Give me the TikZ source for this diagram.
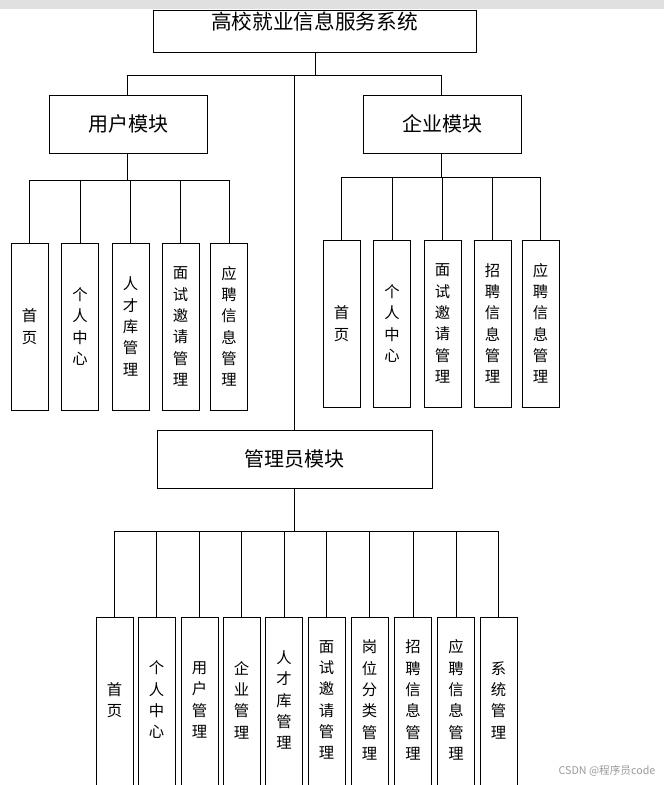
\documentclass[tikz,border=0pt]{standalone}
\usepackage{fontspec}
\setmainfont{Noto Sans CJK SC}
\begin{document}
\begin{tikzpicture}[x=0.75pt,y=-0.75pt,
  bx/.style={draw,line width=0.75pt,fill=white,inner sep=0pt},
  vt/.style={font=\fontsize{11.5}{16}\selectfont,align=center,inner sep=0pt},
  ln/.style={line width=0.75pt}]
\useasboundingbox (0,0) rectangle (664,785);
\fill[black!12] (0,0) rectangle (664,9);
% top
\draw[bx] (153,10) rectangle (476,52);
\node[font=\fontsize{15.5}{16}\selectfont] (top) at (314.5,22) {高校就业信息服务系统};
\coordinate (tb) at (315,52);
\coordinate (tj) at (315,75);
\coordinate (jl) at (127,75);
\coordinate (jr) at (441,75);
\coordinate (jm) at (294,75);
\draw[ln] (tb) -- (tj) (jl) -- (jr);
% modules
\node[bx,minimum width=158*0.75pt,minimum height=58*0.75pt,font=\fontsize{15}{16}\selectfont] (um) at (128,124) {用户模块};
\node[bx,minimum width=158*0.75pt,minimum height=58*0.75pt,font=\fontsize{15}{16}\selectfont] (em) at (442,124) {企业模块};
\node[bx,minimum width=275*0.75pt,minimum height=58*0.75pt,font=\fontsize{15}{16}\selectfont] (am) at (294.5,459) {管理员模块};
\draw[ln] (jl) -- (um.north -| jl);
\draw[ln] (jr) -- (em.north -| jr);
\draw[ln] (jm) -- (am.north -| jm);
% user children
\coordinate (ub) at (127,180);
\draw[ln] (um.south -| ub) -- (ub) (29,180) -- (229,180);
\foreach \n/\x/\t in {u1/29.5/首\\页, u2/80/个\\人\\中\\心, u3/130.5/人\\才\\库\\管\\理, u4/180.5/面\\试\\邀\\请\\管\\理, u5/229/应\\聘\\信\\息\\管\\理}{
  \draw[bx] (\x-18.5,243) rectangle (\x+18.5,410);
  \node[vt] (\n) at (\x,326.5) {\t};
  \draw[ln] (\x,180) -- (\x,243);
}
% enterprise children
\coordinate (eb) at (441,177);
\draw[ln] (em.south -| eb) -- (eb) (342,177) -- (541,177);
\foreach \n/\x/\t in {e1/341.5/首\\页, e2/392/个\\人\\中\\心, e3/442.5/面\\试\\邀\\请\\管\\理, e4/492.5/招\\聘\\信\\息\\管\\理, e5/540.5/应\\聘\\信\\息\\管\\理}{
  \draw[bx] (\x-18.5,240) rectangle (\x+18.5,407);
  \node[vt] (\n) at (\x,323.5) {\t};
  \draw[ln] (\x,177) -- (\x,240);
}
% admin children
\coordinate (ab) at (294,531);
\draw[ln] (am.south -| ab) -- (ab) (114.5,531) -- (498.5,531);
\foreach \n/\x/\t in {a1/114.5/首\\页, a2/156.5/个\\人\\中\\心, a3/199.5/用\\户\\管\\理, a4/241.5/企\\业\\管\\理, a5/284/人\\才\\库\\管\\理, a6/326.5/面\\试\\邀\\请\\管\\理, a7/369.5/岗\\位\\分\\类\\管\\理, a8/413/招\\聘\\信\\息\\管\\理, a9/456/应\\聘\\信\\息\\管\\理, a10/498.5/系\\统\\管\\理}{
  \draw[bx] (\x-18.5,617) rectangle (\x+18.5,790);
  \node[vt] (\n) at (\x,700) {\t};
  \draw[ln] (\x,531) -- (\x,617);
}
\node[font=\fontsize{8}{10}\selectfont,text=black!40,anchor=east] (wm) at (660,771) {CSDN @程序员code};
\end{tikzpicture}
\end{document}
